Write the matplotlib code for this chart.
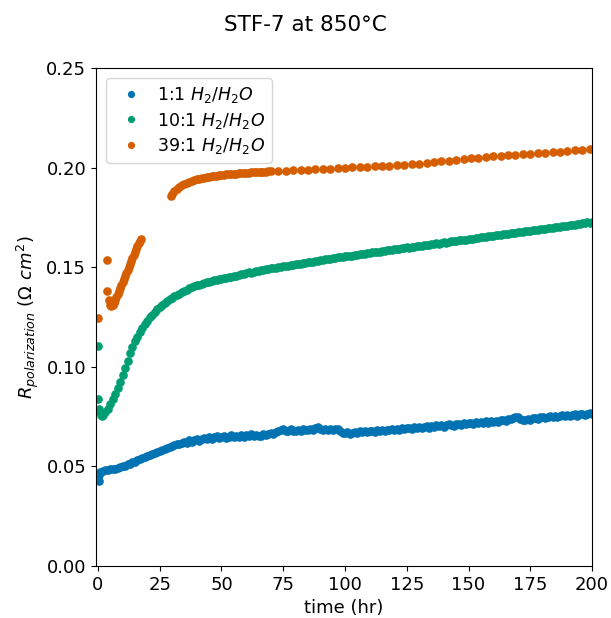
import matplotlib
matplotlib.use("Agg")
import matplotlib.pyplot as plt

# ---- data ----
blue_time = [0.0, 0.3, 0.6] + list(range(1, 201))
blue_vals = [0.0430, 0.0425, 0.0455,
    0.0470, 0.0478, 0.0482, 0.0480, 0.0487, 0.0489, 0.0486, 0.0492, 0.0496, 0.0500,
    0.0504, 0.0510, 0.0514, 0.0520, 0.0524, 0.0530, 0.0535, 0.0542, 0.0546, 0.0552,
    0.0557, 0.0563, 0.0568, 0.0574, 0.0578, 0.0584, 0.0588, 0.0594, 0.0598, 0.0603,
    0.0606, 0.0612, 0.0615, 0.0619, 0.0623, 0.0618, 0.0633, 0.0624, 0.0632, 0.0637,
    0.0630, 0.0640, 0.0643, 0.0636, 0.0648, 0.0640, 0.0646, 0.0652, 0.0641, 0.0648,
    0.0654, 0.0645, 0.0650, 0.0657, 0.0649, 0.0654, 0.0646, 0.0658, 0.0650, 0.0659,
    0.0653, 0.0663, 0.0651, 0.0660, 0.0654, 0.0653, 0.0664, 0.0657, 0.0662, 0.0666,
    0.0663, 0.0671, 0.0678, 0.0684, 0.0690, 0.0678, 0.0676, 0.0686, 0.0679, 0.0677,
    0.0685, 0.0678, 0.0687, 0.0682, 0.0681, 0.0689, 0.0684, 0.0691, 0.0699, 0.0687,
    0.0685, 0.0690, 0.0685, 0.0689, 0.0684, 0.0688, 0.0686, 0.0680, 0.0670, 0.0666,
    0.0672, 0.0664, 0.0669, 0.0674, 0.0668, 0.0676, 0.0671, 0.0678, 0.0673, 0.0676,
    0.0680, 0.0675, 0.0682, 0.0677, 0.0683, 0.0678, 0.0685, 0.0681, 0.0687, 0.0682,
    0.0689, 0.0684, 0.0691, 0.0686, 0.0692, 0.0694, 0.0688, 0.0696, 0.0691, 0.0698,
    0.0692, 0.0699, 0.0701, 0.0695, 0.0703, 0.0697, 0.0707, 0.0701, 0.0707, 0.0700,
    0.0708, 0.0713, 0.0706, 0.0704, 0.0711, 0.0715, 0.0709, 0.0717, 0.0711, 0.0717,
    0.0720, 0.0713, 0.0721, 0.0716, 0.0724, 0.0718, 0.0726, 0.0720, 0.0728, 0.0723,
    0.0730, 0.0725, 0.0732, 0.0735, 0.0728, 0.0736, 0.0740, 0.0743, 0.0750, 0.0746,
    0.0739, 0.0734, 0.0732, 0.0739, 0.0735, 0.0741, 0.0745, 0.0739, 0.0747, 0.0749,
    0.0742, 0.0749, 0.0752, 0.0746, 0.0752, 0.0748, 0.0754, 0.0757, 0.0751, 0.0757,
    0.0753, 0.0758, 0.0761, 0.0755, 0.0761, 0.0763, 0.0758, 0.0764, 0.0767, 0.0765]

green_time = [0.0, 0.1, 0.3, 0.7, 1.2, 1.6] + list(range(2, 201))
green_vals = [0.1104, 0.0841, 0.0790, 0.0772, 0.0758, 0.0752,
    0.0758, 0.0772, 0.0790, 0.0812, 0.0838, 0.0865, 0.0893, 0.0925, 0.0958,
    0.0995, 0.1030, 0.1068, 0.1100, 0.1128, 0.1152, 0.1175, 0.1196, 0.1215, 0.1232,
    0.1248, 0.1262, 0.1276, 0.1289, 0.1300, 0.1311, 0.1321, 0.1330, 0.1339, 0.1347,
    0.1354, 0.1361, 0.1368, 0.1375, 0.1382, 0.1388, 0.1394, 0.1399, 0.1404, 0.1409,
    0.1413, 0.1418, 0.1421, 0.1425, 0.1428, 0.1432, 0.1435, 0.1437, 0.1440, 0.1443,
    0.1446, 0.1444, 0.1449, 0.1452, 0.1455, 0.1458, 0.1460, 0.1464, 0.1466, 0.1470,
    0.1474, 0.1472, 0.1478, 0.1481, 0.1479, 0.1484, 0.1487, 0.1489, 0.1492, 0.1494,
    0.1497, 0.1495, 0.1500, 0.1502, 0.1504, 0.1506, 0.1505, 0.1510, 0.1512, 0.1514,
    0.1516, 0.1515, 0.1520, 0.1522, 0.1524, 0.1527, 0.1526, 0.1531, 0.1533, 0.1535,
    0.1537, 0.1539, 0.1541, 0.1540, 0.1545, 0.1547, 0.1549, 0.1550, 0.1552, 0.1554,
    0.1556, 0.1558, 0.1557, 0.1561, 0.1563, 0.1565, 0.1567, 0.1566, 0.1570, 0.1572,
    0.1574, 0.1576, 0.1578, 0.1577, 0.1581, 0.1583, 0.1585, 0.1584, 0.1588, 0.1590,
    0.1592, 0.1591, 0.1595, 0.1597, 0.1599, 0.1598, 0.1602, 0.1604, 0.1606, 0.1605,
    0.1609, 0.1611, 0.1613, 0.1612, 0.1616, 0.1618, 0.1620, 0.1619, 0.1623, 0.1625,
    0.1624, 0.1628, 0.1630, 0.1632, 0.1631, 0.1635, 0.1637, 0.1639, 0.1638, 0.1642,
    0.1644, 0.1643, 0.1647, 0.1649, 0.1651, 0.1650, 0.1654, 0.1656, 0.1655, 0.1659,
    0.1661, 0.1660, 0.1664, 0.1666, 0.1665, 0.1669, 0.1671, 0.1673, 0.1672, 0.1676,
    0.1678, 0.1677, 0.1681, 0.1683, 0.1682, 0.1686, 0.1688, 0.1687, 0.1691, 0.1693,
    0.1692, 0.1696, 0.1698, 0.1697, 0.1701, 0.1703, 0.1702, 0.1706, 0.1708, 0.1707,
    0.1711, 0.1713, 0.1712, 0.1716, 0.1718, 0.1722, 0.1720, 0.1725, 0.1723, 0.1726]

orange_time = [0.0, 3.5, 3.6,
    4.6, 5.0, 5.5, 6.0, 6.5, 7.0, 7.5, 8.0, 8.5, 9.0, 9.5, 10.0, 10.5, 11.0, 11.5,
    12.0, 12.5, 13.0, 13.5, 14.0, 14.5, 15.0, 15.5, 16.0, 16.5, 17.0, 17.3,
    29.4, 30, 31, 32, 33, 34, 35, 36, 37, 38, 39, 40, 41, 42, 43, 44, 45, 46, 47,
    48, 49, 50, 51, 52, 53, 54, 55, 56, 57, 58, 59, 60, 61, 62, 63, 64, 65, 66, 67,
    68, 69, 70, 73, 76, 79, 82, 85, 88, 91, 94, 97, 100, 103, 106, 109, 112, 115,
    118, 121, 124, 127, 130, 133, 136, 139, 142, 145, 148, 151, 154, 157, 160, 163,
    166, 169, 172, 175, 178, 181, 184, 187, 190, 193, 196, 199]
orange_vals = [0.1246, 0.1536, 0.1380,
    0.1335, 0.1312, 0.1305, 0.1310, 0.1322, 0.1338, 0.1352, 0.1368, 0.1383, 0.1398,
    0.1412, 0.1428, 0.1442, 0.1458, 0.1472, 0.1488, 0.1502, 0.1518, 0.1532, 0.1548,
    0.1562, 0.1577, 0.1592, 0.1607, 0.1620, 0.1633, 0.1640,
    0.1858, 0.1868, 0.1882, 0.1894, 0.1903, 0.1911, 0.1918, 0.1924, 0.1929, 0.1934,
    0.1938, 0.1942, 0.1945, 0.1948, 0.1950, 0.1953, 0.1955, 0.1957, 0.1959, 0.1960,
    0.1962, 0.1963, 0.1965, 0.1966, 0.1967, 0.1968, 0.1969, 0.1970, 0.1971, 0.1972,
    0.1973, 0.1974, 0.1975, 0.1976, 0.1977, 0.1978, 0.1978, 0.1979, 0.1980, 0.1980,
    0.1981, 0.1981, 0.1982, 0.1984, 0.1986, 0.1988, 0.1989, 0.1991, 0.1993,
    0.1995, 0.1998, 0.2000, 0.2002, 0.2003, 0.2005, 0.2006, 0.2008, 0.2010,
    0.2012, 0.2015, 0.2018, 0.2020, 0.2024, 0.2028, 0.2031, 0.2035, 0.2039, 0.2043,
    0.2047, 0.2050, 0.2053, 0.2056, 0.2059, 0.2062, 0.2065, 0.2068, 0.2070, 0.2073,
    0.2075, 0.2078, 0.2080, 0.2083, 0.2086, 0.2088, 0.2091]

labels = ["1:1 $H_2/H_2O$", "10:1 $H_2/H_2O$", "39:1 $H_2/H_2O$"]
colors = ["#0173b2", "#029e73", "#d55e00"]

# ---- plot ----
plt.rcParams["font.family"] = ["DejaVu Sans"]
plt.rcParams["font.size"] = 13

fig = plt.figure(figsize=(6.11, 6.18), dpi=100)
ax = fig.add_axes([0.157, 0.084, 0.812, 0.806])

series = [(blue_time, blue_vals), (green_time, green_vals), (orange_time, orange_vals)]
for (t, v), lab, c in zip(series, labels, colors):
    ax.plot(t, v, linestyle="none", marker="o", markersize=5.2, color=c, label=lab)

ax.set_xlim(-0.8, 200)
ax.set_ylim(0, 0.25)
ax.set_xticks([0, 25, 50, 75, 100, 125, 150, 175, 200])
ax.set_yticks([0.00, 0.05, 0.10, 0.15, 0.20, 0.25])
ax.tick_params(labelsize=13)
ax.set_xlabel("time (hr)", fontsize=13)
ax.set_ylabel(r"$R_{polarization}$ ($\Omega$ $cm^2$)", fontsize=13)
ax.legend(loc="upper left", numpoints=1, markerscale=0.8, fontsize=12.5,
          labelspacing=0.3, handletextpad=0.5, borderaxespad=0.6)
fig.suptitle("STF-7 at 850°C", y=0.975, fontsize=15.5)

fig.savefig("out.png", dpi=100)
